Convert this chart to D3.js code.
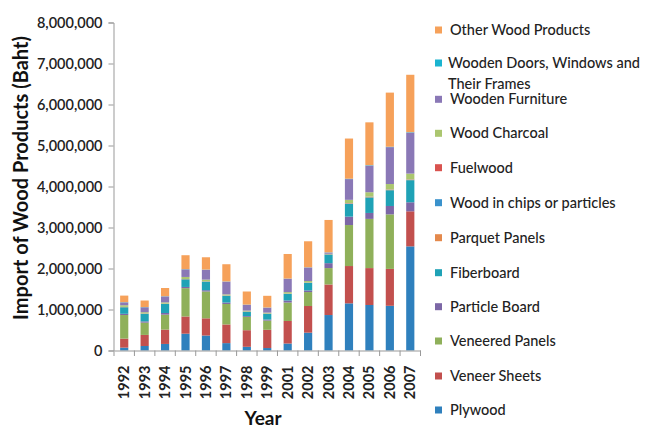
<!DOCTYPE html>
<html><head><meta charset="utf-8">
<script src="https://cdn.jsdelivr.net/npm/d3@7"></script>
<style>body{margin:0;background:#fff;}svg{display:block;}</style>
</head><body>
<svg id="c" width="646" height="428"></svg>
<script>
const years = ["1992","1993","1994","1995","1996","1997","1998","1999","2001","2002","2003","2004","2005","2006","2007"];
const plywood        = [70000,110000,160000,410000,365000,180000,90000,60000,170000,435000,865000,1150000,1110000,1090000,2540000];
const veneerSheets   = [220000,270000,350000,420000,420000,455000,405000,445000,550000,650000,745000,910000,900000,900000,855000];
const veneeredPanels = [575000,300000,365000,690000,655000,500000,325000,225000,450000,340000,400000,1000000,1200000,1330000,0];
const particleBoard  = [30000,30000,40000,30000,30000,35000,20000,25000,50000,40000,120000,205000,145000,205000,220000];
const fiberboard     = [160000,185000,220000,185000,210000,165000,105000,140000,160000,185000,210000,310000,380000,385000,540000];
const parquetPanels  = [5000,5000,5000,5000,5000,5000,5000,5000,5000,5000,5000,10000,10000,10000,10000];
const woodChips      = [2000,2000,2000,2000,2000,2000,2000,2000,2000,2000,2000,5000,5000,5000,5000];
const fuelwood       = [2000,2000,2000,2000,2000,2000,2000,2000,2000,2000,2000,5000,5000,5000,5000];
const woodCharcoal   = [40000,30000,30000,50000,40000,25000,20000,20000,35000,35000,10000,80000,105000,130000,140000];
const woodenFurniture= [70000,120000,145000,185000,240000,310000,140000,120000,325000,330000,30000,505000,650000,900000,1000000];
const woodenDoors    = [5000,5000,5000,5000,5000,5000,5000,5000,5000,5000,5000,10000,10000,10000,10000];
const otherProducts  = [160000,160000,200000,340000,300000,420000,320000,285000,600000,635000,790000,980000,1045000,1320000,1400000];
const yTicks = [0,1000000,2000000,3000000,4000000,5000000,6000000,7000000,8000000];

const seriesNames = ["Plywood","Veneer Sheets","Veneered Panels","Particle Board","Fiberboard","Parquet Panels","Wood in chips or particles","Fuelwood","Wood Charcoal","Wooden Furniture","Wooden Doors, Windows and Their Frames","Other Wood Products"];
const seriesValues = [plywood,veneerSheets,veneeredPanels,particleBoard,fiberboard,parquetPanels,woodChips,fuelwood,woodCharcoal,woodenFurniture,woodenDoors,otherProducts];
const colors = ["#2f80bd","#c2504e","#8fb05a","#7c67a6","#1fa2b6","#e4894c","#3a92cc","#d9534f","#abc66f","#8a78b6","#1bb4d0","#f6a15a"];

const rows = years.map((y,i)=>{const r={year:y}; seriesNames.forEach((n,j)=>r[n]=seriesValues[j][i]); return r;});
const stack = d3.stack().keys(seriesNames)(rows);

const svg = d3.select("#c");
const font = "Lato, 'Open Sans', sans-serif";
const x = d3.scaleBand().domain(years).range([114,420.5]).paddingInner(0.6).paddingOuter(0.3);
const y = d3.scaleLinear().domain([0,8000000]).range([350.5,22.5]);

svg.append("g").selectAll("g").data(stack).join("g")
  .attr("fill",(d,i)=>colors[i])
  .selectAll("rect").data(d=>d).join("rect")
  .attr("x",d=>x(d.data.year)).attr("width",x.bandwidth())
  .attr("y",d=>y(d[1])).attr("height",d=>Math.max(0,y(d[0])-y(d[1])));

// y axis
const ya = svg.append("g").attr("transform","translate(113.5,0)")
  .call(d3.axisLeft(y).tickValues(yTicks).tickFormat(d3.format(",")).tickSize(5).tickPadding(6));
ya.select(".domain").attr("stroke","#999");
ya.selectAll(".tick line").attr("stroke","#999");
ya.selectAll("text").attr("font-family",font).attr("font-size",14.5).attr("font-weight",600).attr("fill","#222");

// x axis
const xa = svg.append("g").attr("transform","translate(0,350.5)")
  .call(d3.axisBottom(x).tickSize(0).tickPadding(0));
xa.select(".domain").attr("stroke","#999");
xa.selectAll("text").attr("font-family",font).attr("font-size",14.5).attr("font-weight",700).attr("fill","#222")
  .attr("transform","rotate(-90)").attr("text-anchor","end").attr("dx","-15").attr("dy","5");
// category separators
const bounds = years.map(yr=>x(yr)-x.step()*x.paddingInner()/2).concat([x(years[years.length-1])+x.bandwidth()+x.step()*x.paddingInner()/2]);
svg.append("g").selectAll("line").data(bounds).join("line")
  .attr("x1",d=>d).attr("x2",d=>d).attr("y1",350.5).attr("y2",356).attr("stroke","#999");

// titles
svg.append("text").attr("x",263).attr("y",425).attr("text-anchor","middle")
  .attr("font-family",font).attr("font-size",19).attr("font-weight",700).attr("fill","#111").text("Year");
svg.append("text").attr("transform","translate(28,178) rotate(-90)").attr("text-anchor","middle")
  .attr("font-family",font).attr("font-size",20).attr("font-weight",700).attr("fill","#111").text("Import of Wood Products (Baht)");

// legend (top = last series)
const legendOrder = seriesNames.map((n,i)=>i).reverse();
const legY = [30,63,99.3,133.3,167.7,202.7,237.7,272.7,306.7,341,376,410];
const lg = svg.append("g");
legendOrder.forEach((si,k)=>{
  const g = lg.append("g").attr("transform",`translate(435,${legY[k]})`);
  g.append("rect").attr("x",0).attr("y",-3.5).attr("width",7).attr("height",7).attr("fill",colors[si]);
  const name = seriesNames[si];
  const t = g.append("text").attr("x", si===10?13:15).attr("y",5)
    .attr("font-family",font).attr("font-size",14.5).attr("font-weight",500).attr("fill","#222");
  if(si===10){
    t.append("tspan").attr("x",13).attr("dy",0).text("Wooden Doors, Windows and");
    t.append("tspan").attr("x",13).attr("dy",21).text("Their Frames");
  } else t.text(name);
});
</script>
</body></html>
